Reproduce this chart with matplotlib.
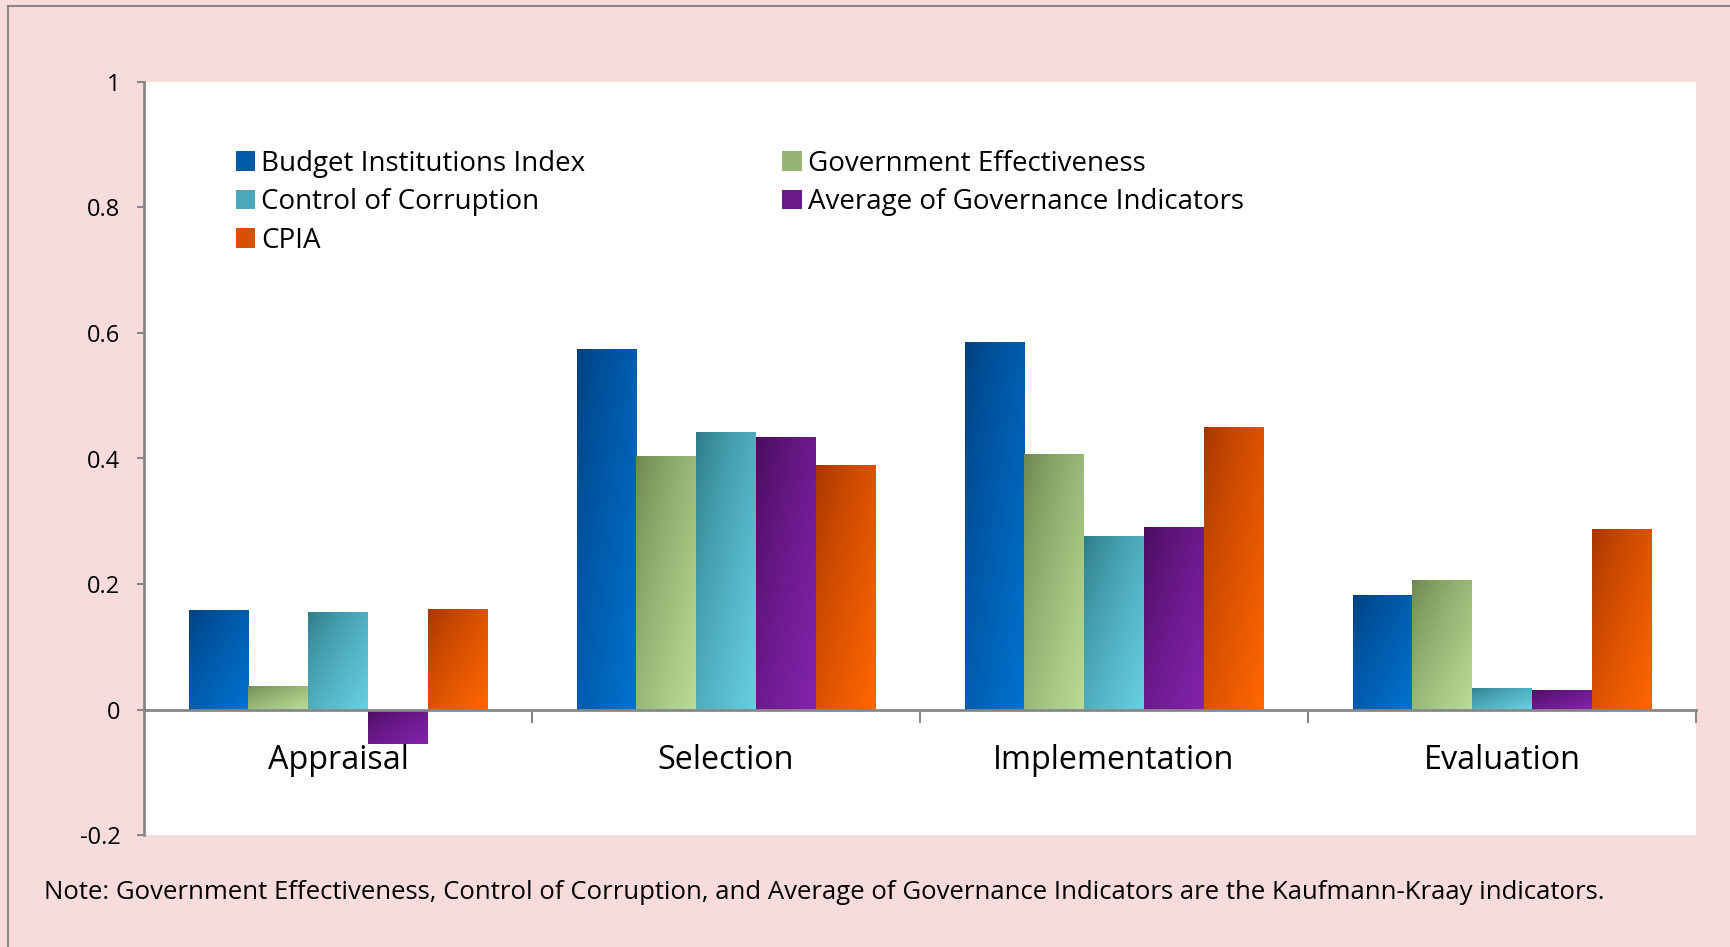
# Budget institutions vs governance indicators, grouped bars with gradient fill

import numpy as np
import matplotlib
matplotlib.use('Agg')
import matplotlib.pyplot as plt
from matplotlib.colors import LinearSegmentedColormap
from matplotlib.patches import Patch
from matplotlib.lines import Line2D

# Data
stages = ['Appraisal', 'Selection', 'Implementation', 'Evaluation']
series = ['Budget Institutions Index', 'Government Effectiveness',
          'Control of Corruption', 'Average of Governance Indicators', 'CPIA']
budget_index = [0.158, 0.575, 0.586, 0.182]
gov_effectiveness = [0.037, 0.404, 0.407, 0.206]
control_corruption = [0.155, 0.442, 0.276, 0.034]
avg_governance = [-0.055, 0.434, 0.291, 0.031]
cpia = [0.160, 0.389, 0.450, 0.287]
y_ticks = [-0.2, 0, 0.2, 0.4, 0.6, 0.8, 1]
y_tick_labels = ['-0.2', '0', '0.2', '0.4', '0.6', '0.8', '1']
note = ('Note: Government Effectiveness, Control of Corruption, and Average '
        'of Governance Indicators are the Kaufmann-Kraay indicators.')

values = [budget_index, gov_effectiveness, control_corruption,
          avg_governance, cpia]
# (dark, light) gradient ends per series
grads = [('#003e7e', '#0072cf'),
         ('#6a8550', '#badb93'),
         ('#2d7a86', '#66cfe2'),
         ('#480c5c', '#8423ad'),
         ('#a53500', '#ff6600')]

PINK = '#f8dcdc'
GREY = '#878787'
plt.rcParams['font.family'] = ['Open Sans', 'DejaVu Sans']

fig = plt.figure(figsize=(17.31, 9.47), dpi=100, facecolor=PINK)
ax = fig.add_axes([144 / 1731, 1 - 835 / 947, 1552 / 1731, 753 / 947])
ax.set_facecolor('white')

x = np.arange(len(stages))
w = 0.154
u, v = np.meshgrid(np.linspace(0, 1, 50), np.linspace(1, 0, 100))
grad_img = np.clip(((u + (1 - v)) / 2) ** 0.75, 0, 1)

for i, (vals, (dark, light)) in enumerate(zip(values, grads)):
    cmap = LinearSegmentedColormap.from_list('g%d' % i, [dark, light])
    bars = ax.bar(x + (i - 2) * w, vals, width=w, color=light, zorder=1,
                  linewidth=0)
    for b in bars:
        x0, y0 = b.get_x(), b.get_y()
        x1, y1 = x0 + b.get_width(), y0 + b.get_height()
        lo, hi = min(y0, y1), max(y0, y1)
        im = ax.imshow(grad_img, cmap=cmap, vmin=0, vmax=1, aspect='auto',
                       extent=(x0, x1, lo, hi), origin='upper',
                       interpolation='bilinear', zorder=1.5)
        im.set_clip_path(b)

ax.set_xlim(-0.5, 3.5)
ax.set_ylim(-0.2, 1)

# axes styling
for s in ['top', 'right']:
    ax.spines[s].set_visible(False)
ax.spines['left'].set_color(GREY)
ax.spines['left'].set_linewidth(2)
ax.spines['bottom'].set_position(('data', 0))
ax.spines['bottom'].set_color(GREY)
ax.spines['bottom'].set_linewidth(2)
ax.spines['bottom'].set_zorder(3)

ax.set_yticks(y_ticks)
ax.set_yticklabels(y_tick_labels, fontsize=17)
ax.tick_params(axis='y', length=5, width=1.5, color=GREY, pad=12)

ax.set_xticks(x)
ax.set_xticklabels(stages, fontsize=23.3)
ax.set_xticks([0.5, 1.5, 2.5, 3.5], minor=True)
ax.tick_params(axis='x', which='major', length=0, pad=25)
ax.tick_params(axis='x', which='minor', length=9, width=1.5, color=GREY)

# legend, filled column by column -> reorder for row layout
order = [0, 2, 4, 1, 3]
handles = [Patch(facecolor=LinearSegmentedColormap.from_list(
                     'h', grads[k])(0.55), edgecolor='none') for k in order]
ax.legend(handles, [series[k] for k in order], ncol=2,
          loc='upper left', bbox_to_anchor=(0.059, 0.910), frameon=False,
          fontsize=20, handlelength=0.7, handleheight=0.7,
          handletextpad=0.22, labelspacing=0.38, columnspacing=7.1,
          borderpad=0, borderaxespad=0)

fig.text(44 / 1731, 1 - 892 / 947, note, fontsize=18.5, va='center',
         ha='left')

# outer frame: top and left edges visible
fig.add_artist(Line2D([8 / 1731, 8 / 1731], [0, 1 - 6 / 947],
                      transform=fig.transFigure, color=GREY, lw=1.5))
fig.add_artist(Line2D([8 / 1731, 1], [1 - 6 / 947, 1 - 6 / 947],
                      transform=fig.transFigure, color=GREY, lw=1.5))

fig.savefig('out.png', dpi=100, facecolor=PINK)
